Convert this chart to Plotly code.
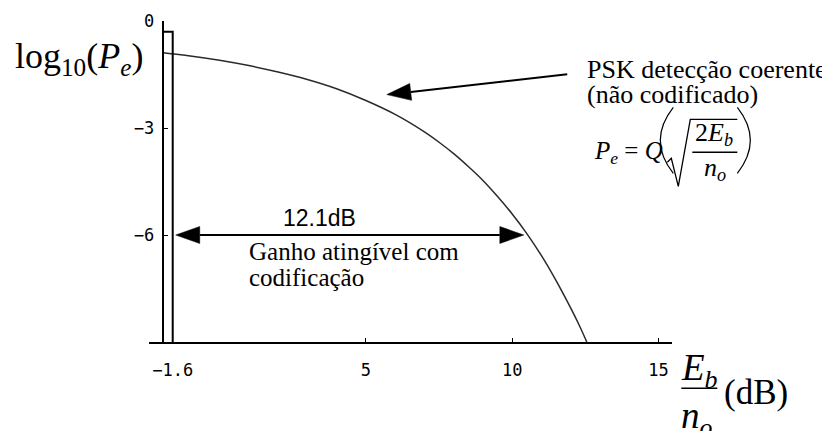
import plotly.graph_objects as go

# Uncoded coherent PSK: log10 of bit error probability against Eb/N0 in dB
ebno_db = [-1.94, -1.0, 0.0, 1.0, 2.0, 3.0, 4.0, 5.0, 6.0, 7.0, 7.5, 8.0, 8.5,
           9.0, 9.5, 10.0, 10.5, 11.0, 11.5, 12.0, 12.25, 12.55]
log10_pe = [-0.89, -0.98, -1.10, -1.25, -1.43, -1.64, -1.90, -2.23, -2.62, -3.11,
            -3.40, -3.72, -4.08, -4.47, -4.92, -5.41, -5.96, -6.58, -7.28, -8.05,
            -8.46, -9.00]

# Shannon limit bar and the attainable coding gain at Pe = 1e-6
shannon_limit_db = -1.6
limit_top = -0.30
gain_db = 12.1
gain_level = -6.0

x_tickvals = [-1.6, 5, 10, 15]
x_ticktext = ["\u22121.6", "5", "10", "15"]
y_tickvals = [0, -3, -6]
y_ticktext = ["0", "\u22123", "\u22126"]

x_range = [-2.41, 15.46]
y_range = [-9.0, 0.0]
y_axis_at = -1.94

# ---- figure geometry -------------------------------------------------------
FIG_W, FIG_H = 822, 431
M_L, M_R, M_T, M_B = 149, 150.3, 20.7, 89.3
PLOT_W = FIG_W - M_L - M_R
PLOT_H = FIG_H - M_T - M_B

SERIF = "Liberation Serif"
SANS = "Liberation Sans"
MONO = "DejaVu Sans Mono"


def to_paper(px, py):
    return ((px - M_L) / PLOT_W, (FIG_H - M_B - py) / PLOT_H)


def data_to_px(x, y):
    px = M_L + (x - x_range[0]) / (x_range[1] - x_range[0]) * PLOT_W
    py = M_T + (y_range[1] - y) / (y_range[1] - y_range[0]) * PLOT_H
    return px, py


annotations = []
shapes = []


def label(text, px, baseline, size, family=SERIF, anchor="left"):
    xp, yp = to_paper(px, baseline - 0.33 * size)
    annotations.append(dict(
        text=text, x=xp, y=yp, xref="paper", yref="paper",
        xanchor=anchor, yanchor="middle", showarrow=False,
        font=dict(family=family, size=size, color="black")))


def path_shape(cmds, width=1.2, fill=None):
    parts = []
    for cmd, pts in cmds:
        coords = " ".join("%.5f,%.5f" % to_paper(px, py) for px, py in pts)
        parts.append(cmd + coords)
    d = " ".join(parts)
    if fill:
        d += " Z"
    shapes.append(dict(
        type="path", path=d, xref="paper", yref="paper",
        line=dict(color="black", width=width),
        fillcolor=fill if fill else "rgba(0,0,0,0)"))


def arrow_head(tx, ty, dx, dy, length=24, half_w=8.5):
    n = (dx * dx + dy * dy) ** 0.5
    ux, uy = dx / n, dy / n
    bx, by = tx - ux * length, ty - uy * length
    path_shape([("M", [(tx, ty)]),
                ("L", [(bx - uy * half_w, by + ux * half_w)]),
                ("L", [(bx + uy * half_w, by - ux * half_w)])],
               width=0.5, fill="black")
    return bx, by


def line_px(x0, y0, x1, y1, width=2):
    path_shape([("M", [(x0, y0)]), ("L", [(x1, y1)])], width=width)


# ---- traces ---------------------------------------------------------------
fig = go.Figure()

fig.add_trace(go.Scatter(
    x=ebno_db, y=log10_pe, mode="lines",
    line=dict(color="#2a2a2a", width=1.5, shape="spline"),
    hoverinfo="skip", showlegend=False))

fig.add_trace(go.Scatter(
    x=[y_axis_at, shannon_limit_db, shannon_limit_db],
    y=[limit_top, limit_top, y_range[0]],
    mode="lines", line=dict(color="black", width=2),
    hoverinfo="skip", showlegend=False))

# ---- coding-gain double arrow at Pe = 1e-6 ----------------------------------
gx0, gy = data_to_px(shannon_limit_db, gain_level)
gx1, _ = data_to_px(shannon_limit_db + gain_db, gain_level)
left_tip = gx0 + 3
right_tip = gx1 - 3
lb, _ = arrow_head(left_tip, gy, -1, 0)
rb, _ = arrow_head(right_tip, gy, 1, 0)
line_px(lb, gy, rb, gy, width=2)

# ---- pointer to the curve -------------------------------------------------
tip = (386.7, 94.3)
tail = (567.0, 74.0)
bx, by = arrow_head(tip[0], tip[1], tip[0] - tail[0], tip[1] - tail[1])
line_px(tail[0], tail[1], bx, by, width=2)

# ---- texts ----------------------------------------------------------------
label("log<sub>10</sub>(<i>P<sub>e</sub></i>)", 13, 70, 36)
label("PSK detecção coerente", 585, 78, 26)
label("(não codificado)", 585, 103, 26)
label("12.1dB", 319, 225, 23, family=SANS, anchor="center")
label("Ganho atingível com", 247, 259, 25)
label("codificação", 247, 285, 25)

# Pe = Q( sqrt(2Eb / no) )
label("<i>P<sub>e</sub></i> = <i>Q</i>", 592, 160, 25)
label("2<i>E<sub>b</sub></i>", 714, 142, 26, anchor="center")
label("<i>n<sub>o</sub></i>", 715, 177, 26, anchor="center")
line_px(692, 152, 737, 152, width=1.4)
path_shape([("M", [(667, 162)]), ("L", [(671, 158)]), ("L", [(678, 186)]),
            ("L", [(690, 119)]), ("L", [(737, 119)])], width=1.3)
path_shape([("M", [(673, 107)]), ("Q", [(647, 140), (673, 173)])], width=1.2)
path_shape([("M", [(737, 107)]), ("Q", [(763, 140), (737, 173)])], width=1.2)

# x-axis title: Eb/no (dB)
label("<i>E<sub>b</sub></i>", 699, 382, 37, anchor="center")
line_px(681, 388, 717, 388, width=1.5)
label("<i>n<sub>o</sub></i>", 697, 430, 37, anchor="center")
label("(dB)", 722, 404, 35)

# ---- layout ---------------------------------------------------------------
y_pos = (y_axis_at - x_range[0]) / (x_range[1] - x_range[0])

fig.update_layout(
    width=FIG_W, height=FIG_H,
    margin=dict(l=M_L, r=M_R, t=M_T, b=M_B, pad=0, autoexpand=False),
    paper_bgcolor="white", plot_bgcolor="white",
    showlegend=False,
    xaxis=dict(
        range=x_range, showgrid=False, zeroline=False,
        showline=True, linecolor="black", linewidth=2,
        ticks="inside", ticklen=4, tickwidth=1, tickcolor="black",
        tickvals=x_tickvals, ticktext=x_ticktext,
        tickfont=dict(family=MONO, size=17, color="black"),
        ticklabelstandoff=12, automargin=False, fixedrange=True),
    yaxis=dict(
        range=y_range, showgrid=False, zeroline=False,
        anchor="free", position=y_pos,
        showline=True, linecolor="black", linewidth=2,
        ticks="inside", ticklen=4, tickwidth=1, tickcolor="black",
        tickvals=y_tickvals, ticktext=y_ticktext,
        tickfont=dict(family=MONO, size=17, color="black"),
        ticklabelstandoff=4, automargin=False, fixedrange=True),
    annotations=annotations,
    shapes=shapes,
)

fig.write_html("out.html", config={"displayModeBar": False})
